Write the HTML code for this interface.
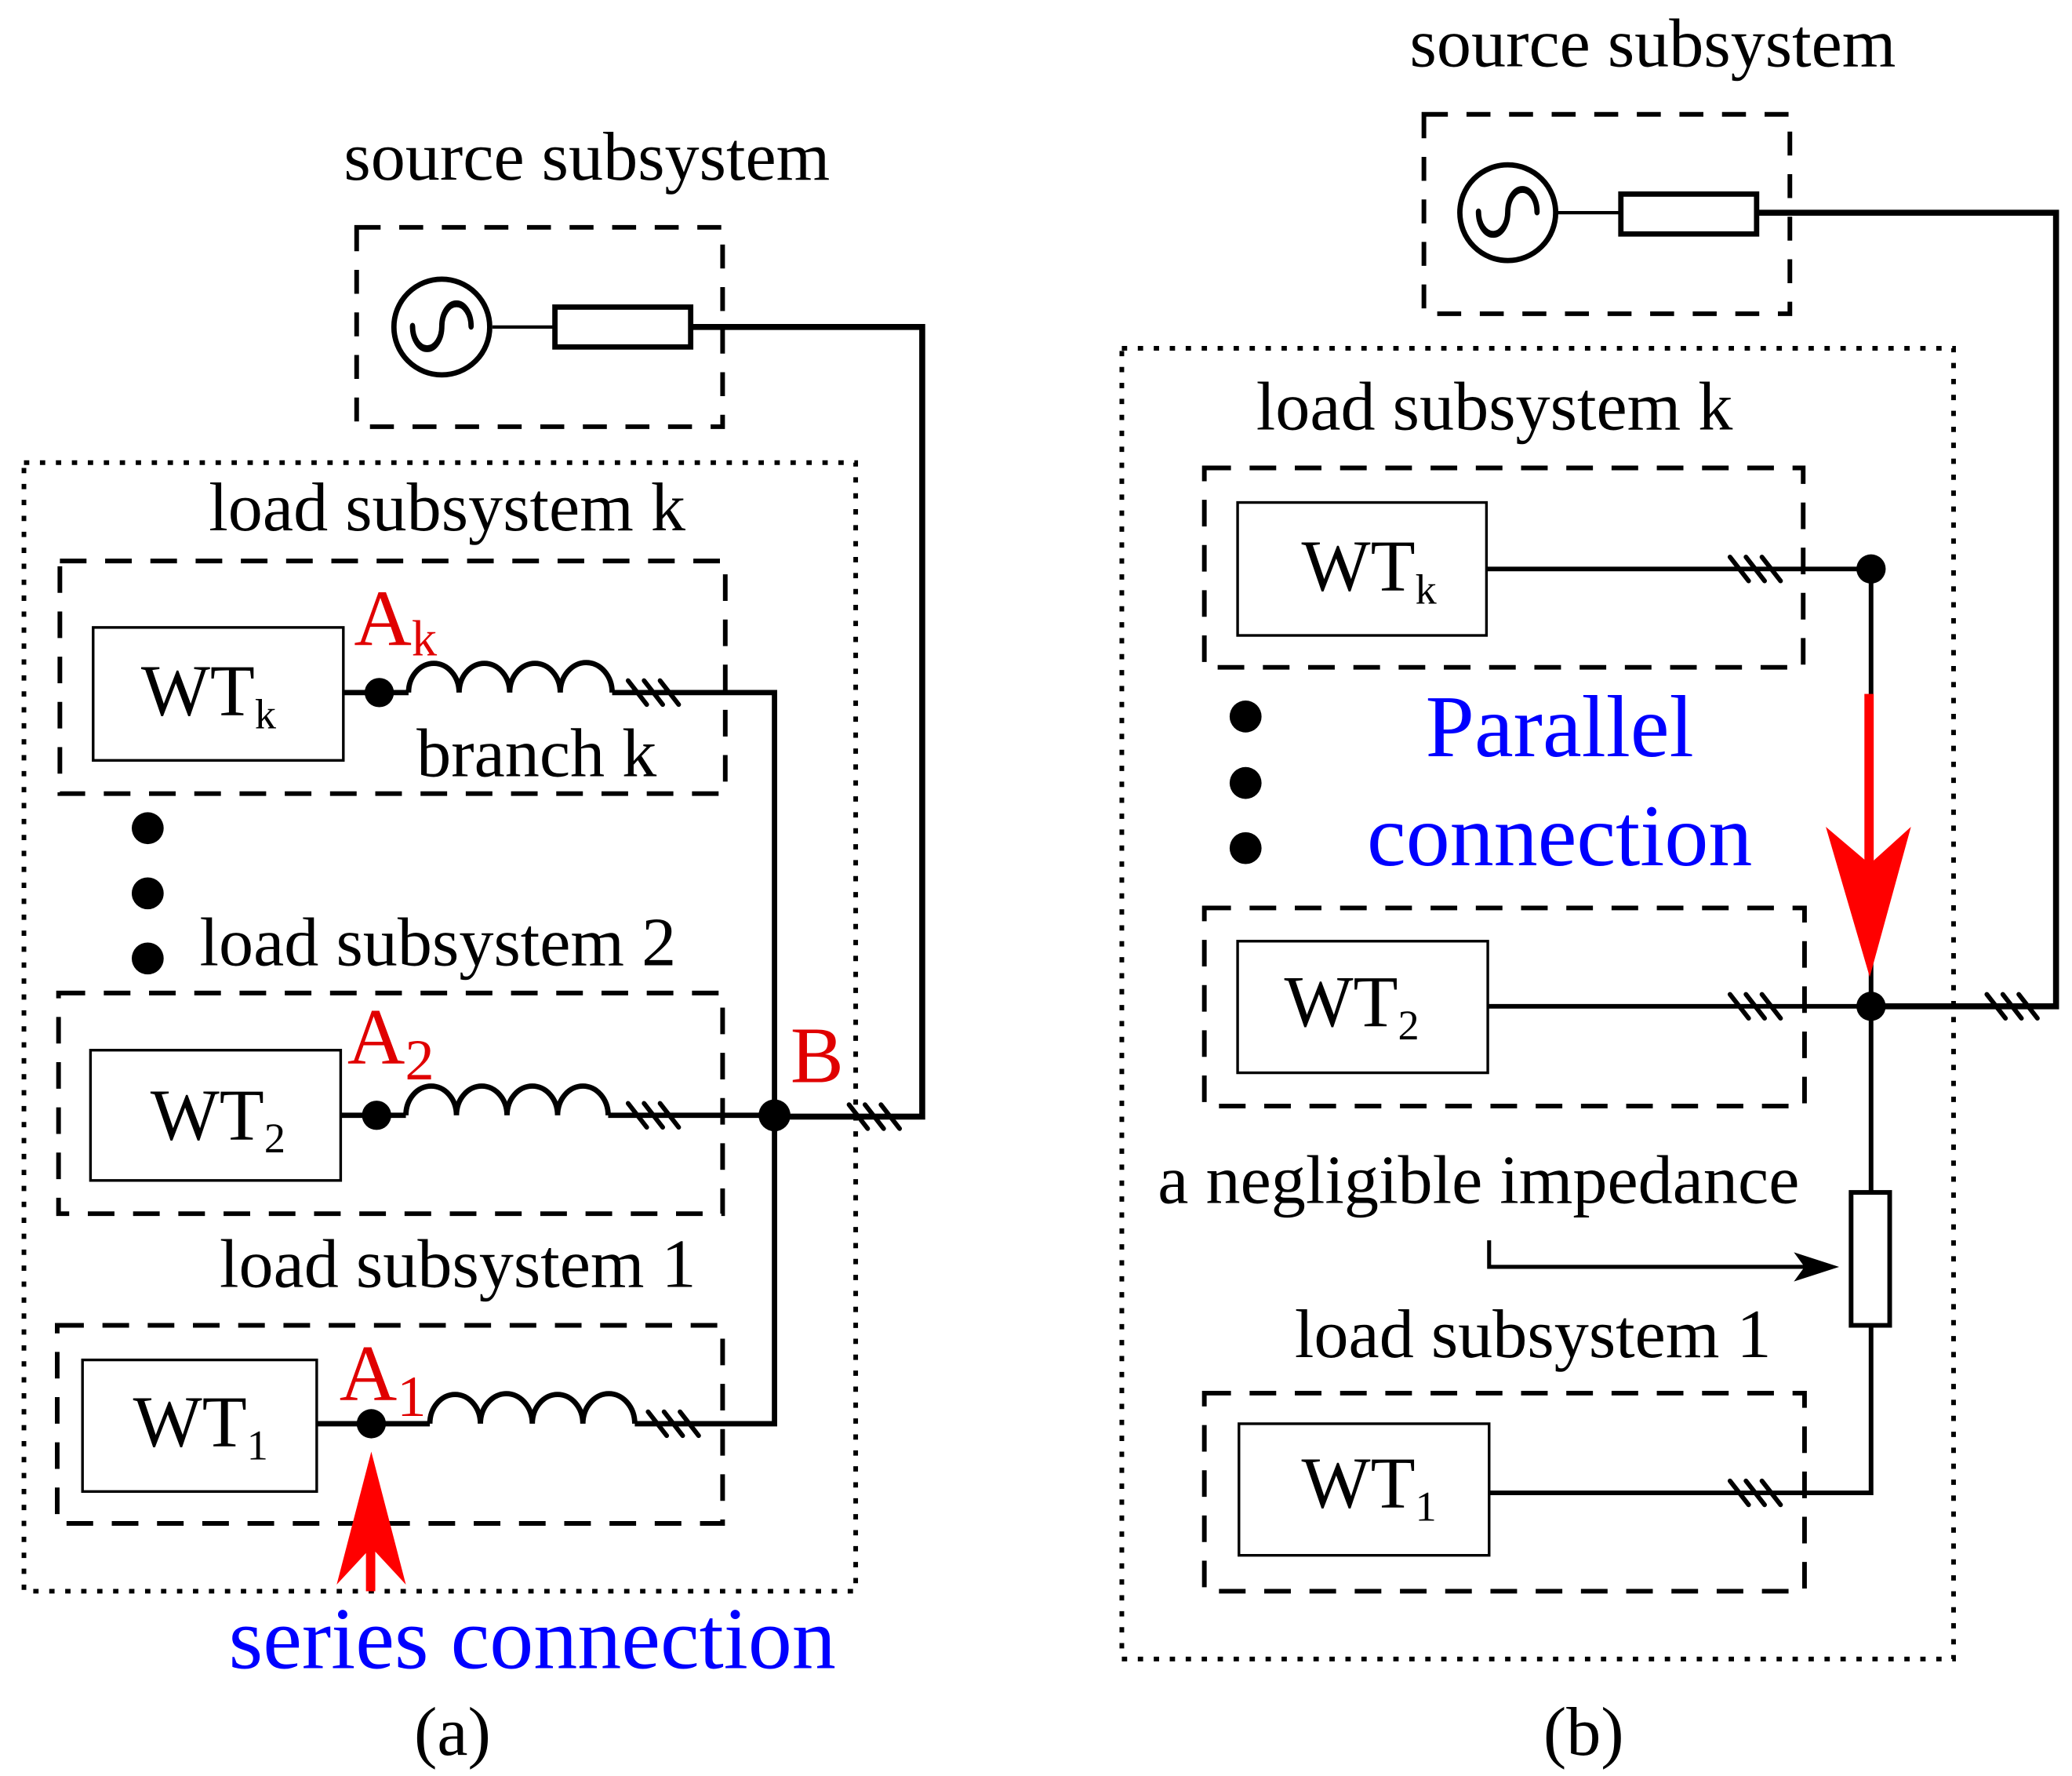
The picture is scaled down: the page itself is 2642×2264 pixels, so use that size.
<!DOCTYPE html>
<html><head><meta charset="utf-8"><style>
html,body{margin:0;padding:0;background:#fff}
svg{display:block}
text{font-family:"Liberation Serif",serif}
</style></head><body>
<svg width="2642" height="2264" viewBox="0 0 1557 1336" preserveAspectRatio="none" xmlns="http://www.w3.org/2000/svg">
<defs>
<g id="hatch" stroke="#000" stroke-width="3.5" stroke-linecap="round">
<line x1="-18" y1="-9" x2="-4" y2="9"/><line x1="-6" y1="-9" x2="8" y2="9"/><line x1="6" y1="-9" x2="20" y2="9"/>
</g>
<g id="src" fill="none" stroke="#000">
<circle cx="0" cy="0" r="36" stroke-width="4"/>
<path d="M-22 -2 A11 13 0 0 0 0 -2 A11 13 0 0 1 22 -2" stroke-width="4" stroke-linecap="round" transform="translate(0,2) scale(1,1.3)"/>
</g>
</defs>
<g fill="none" stroke="#000">
<rect x="268" y="171" width="275" height="150" stroke-width="3.5" stroke-dasharray="18,14"/>
<line x1="370" y1="246" x2="417" y2="246" stroke-width="2.5"/>
<rect x="417" y="231" width="102" height="30" stroke-width="4"/>
<polyline points="519,246 693,246 693,840 582,840" stroke-width="4.5"/>
<rect x="18" y="348" width="625" height="849" stroke-width="3.5" stroke-dasharray="4,8"/>
<rect x="45" y="422" width="500" height="175" stroke-width="3.5" stroke-dasharray="20,14"/>
<rect x="44" y="747" width="499" height="166" stroke-width="3.5" stroke-dasharray="20,14"/>
<rect x="43" y="997" width="500" height="149" stroke-width="3.5" stroke-dasharray="20,14"/>
<rect x="70" y="472" width="188" height="100" stroke-width="2"/>
<rect x="68" y="790" width="188" height="98" stroke-width="2"/>
<rect x="62" y="1023" width="176" height="99" stroke-width="2"/>
<g stroke-width="4">
<line x1="258" y1="521" x2="307" y2="521"/>
<path d="M307 521 a19 22 0 0 1 38 0 a19 22 0 0 1 38 0 a19 22 0 0 1 38 0 a19 22 0 0 1 39 0"/>
<polyline points="460,521 582,521 582,1071 477,1071"/>
<line x1="256" y1="839" x2="305" y2="839"/>
<path d="M305 839 a19 22 0 0 1 38 0 a19 22 0 0 1 38 0 a19 22 0 0 1 38 0 a19 22 0 0 1 38 0"/>
<line x1="457" y1="839" x2="582" y2="839"/>
<line x1="238" y1="1071" x2="323" y2="1071"/>
<path d="M323 1071 a19 22 0 0 1 38 0 a19 22 0 0 1 39 0 a19 22 0 0 1 38 0 a19 22 0 0 1 39 0"/>
</g>
<rect x="1070" y="86" width="275" height="150" stroke-width="3.5" stroke-dasharray="18,14"/>
<line x1="1170" y1="160" x2="1218" y2="160" stroke-width="2.5"/>
<rect x="1218" y="146" width="102" height="30" stroke-width="4"/>
<polyline points="1320,160 1545,160 1545,757 1406,757" stroke-width="4.5"/>
<rect x="843" y="262" width="625" height="986" stroke-width="3.5" stroke-dasharray="4,8"/>
<rect x="905" y="352" width="450" height="150" stroke-width="3.5" stroke-dasharray="20,14"/>
<rect x="905" y="683" width="451" height="149" stroke-width="3.5" stroke-dasharray="20,14"/>
<rect x="905" y="1048" width="451" height="149" stroke-width="3.5" stroke-dasharray="20,14"/>
<rect x="930" y="378" width="187" height="100" stroke-width="2"/>
<rect x="930" y="708" width="188" height="99" stroke-width="2"/>
<rect x="931" y="1071" width="188" height="99" stroke-width="2"/>
<g stroke-width="3.5">
<polyline points="1117,428 1406,428 1406,897"/>
<line x1="1118" y1="757" x2="1406" y2="757"/>
<polyline points="1119,1123 1406,1123 1406,997"/>
<rect x="1391" y="897" width="29" height="100"/>
</g>
<polyline points="1119,933 1119,953 1372,953" stroke-width="3"/>
</g>
<polygon points="1382,953 1348,942 1356,953 1348,964" fill="#000"/>
<use href="#src" x="332" y="246"/>
<use href="#src" x="1133" y="160"/>
<use href="#hatch" x="490" y="521"/>
<use href="#hatch" x="490" y="839"/>
<use href="#hatch" x="505" y="1071"/>
<use href="#hatch" x="656" y="840"/>
<use href="#hatch" x="1318" y="428"/>
<use href="#hatch" x="1318" y="757"/>
<use href="#hatch" x="1318" y="1123"/>
<use href="#hatch" x="1511" y="757"/>
<g fill="#000">
<circle cx="285" cy="521" r="11"/><circle cx="283" cy="839" r="11"/><circle cx="279" cy="1071" r="11"/>
<circle cx="582" cy="839" r="12"/>
<circle cx="111" cy="623" r="12"/><circle cx="111" cy="672" r="12"/><circle cx="111" cy="721" r="12"/>
<circle cx="936" cy="539" r="12"/><circle cx="936" cy="589" r="12"/><circle cx="936" cy="638" r="12"/>
<circle cx="1406" cy="428" r="11"/><circle cx="1406" cy="757" r="11"/>
</g>
<g fill="#f00">
<rect x="275" y="1150" width="7" height="47"/>
<polygon points="279,1092 305,1192 279,1164 253,1192"/>
<rect x="1401" y="522" width="7" height="180"/>
<polygon points="1405,735 1372,622 1405,650 1436,622"/>
</g>
<g font-size="52" fill="#000">
<text x="441" y="135" text-anchor="middle">source subsystem</text>
<text x="336" y="399" text-anchor="middle">load subsystem k</text>
<text x="313" y="584">branch k</text>
<text x="150" y="726">load subsystem 2</text>
<text x="165" y="968">load subsystem 1</text>
<text x="1242" y="50" text-anchor="middle">source subsystem</text>
<text x="1123" y="323" text-anchor="middle">load subsystem k</text>
<text x="1152" y="1021" text-anchor="middle">load subsystem 1</text>
<text x="340" y="1320" text-anchor="middle">(a)</text>
<text x="1190" y="1320" text-anchor="middle">(b)</text>
</g>
<text x="870" y="905" font-size="52" fill="#000">a negligible impedance</text>
<g font-size="55" fill="#000">
<text x="106" y="538">WT<tspan font-size="32" dy="10">k</tspan></text>
<text x="113" y="857">WT<tspan font-size="32" dy="10">2</tspan></text>
<text x="100" y="1088">WT<tspan font-size="32" dy="10">1</tspan></text>
<text x="978" y="444">WT<tspan font-size="32" dy="10">k</tspan></text>
<text x="965" y="772">WT<tspan font-size="32" dy="10">2</tspan></text>
<text x="978" y="1134">WT<tspan font-size="32" dy="10">1</tspan></text>
</g>
<g font-size="60" fill="#e00000">
<text x="266" y="485">A<tspan font-size="38" dy="8">k</tspan></text>
<text x="261" y="800">A<tspan font-size="44" dy="12">2</tspan></text>
<text x="255" y="1053">A<tspan font-size="44" dy="12">1</tspan></text>
<text x="594" y="814">B</text>
</g>
<g font-size="66" fill="#0000ff">
<text x="400" y="1255" text-anchor="middle">series connection</text>
<text x="1172" y="569" text-anchor="middle">Parallel</text>
<text x="1172" y="651" text-anchor="middle">connection</text>
</g>
</svg>
</body></html>
